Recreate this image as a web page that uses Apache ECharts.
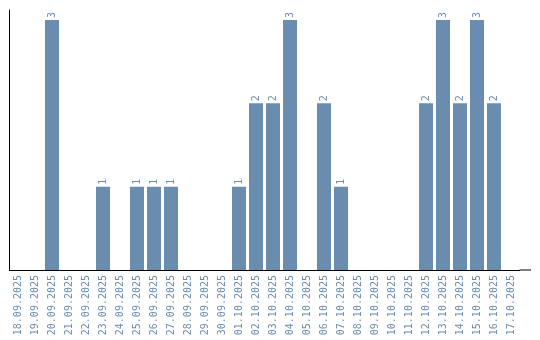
<!DOCTYPE html>
<html><head><meta charset="utf-8">
<script src="https://cdn.jsdelivr.net/npm/echarts@6/dist/echarts.min.js"></script>
<style>html,body{margin:0;padding:0;background:#fff}#c{width:540px;height:340px}</style>
</head><body><div id="c"></div>
<script>
const categories = ["18.09.2025","19.09.2025","20.09.2025","21.09.2025","22.09.2025","23.09.2025","24.09.2025","25.09.2025","26.09.2025","27.09.2025","28.09.2025","29.09.2025","30.09.2025","01.10.2025","02.10.2025","03.10.2025","04.10.2025","05.10.2025","06.10.2025","07.10.2025","08.10.2025","09.10.2025","10.10.2025","11.10.2025","12.10.2025","13.10.2025","14.10.2025","15.10.2025","16.10.2025","17.10.2025"];
const counts = [0,0,3,0,0,1,0,1,1,1,0,0,0,1,2,2,3,0,2,1,0,0,0,0,2,3,2,3,2,0];

const gridLeft = 9.5, gridTop = 10, gridWidth = 510, gridBottom = 70;
const chart = echarts.init(document.getElementById('c'));
chart.setOption({
  animation: false,
  grid: {left: gridLeft, top: gridTop, width: gridWidth, bottom: gridBottom, containLabel: false},
  xAxis: {
    type: 'category', data: categories,
    axisLine: {show: true, lineStyle: {color: '#000', width: 1}},
    axisTick: {show: false},
    axisLabel: {rotate: 90, interval: 0, margin: 5, color: '#6a8caf', fontFamily: 'DejaVu Sans Mono', fontSize: 10}
  },
  yAxis: {
    type: 'value', min: 0, max: 3.12,
    axisLine: {show: true, lineStyle: {color: '#000', width: 1}},
    axisTick: {show: false}, axisLabel: {show: false}, splitLine: {show: false}
  },
  graphic: [{
    type: 'line', silent: true,
    shape: {x1: gridLeft + gridWidth, y1: 340 - gridBottom, x2: 531, y2: 340 - gridBottom},
    style: {stroke: '#000', lineWidth: 1}
  }],
  series: [{
    type: 'bar', data: counts.map(v => v === 0 ? null : v), barWidth: 14,
    itemStyle: {color: '#6a8caf'},
    label: {show: true, position: 'top', rotate: 90, align: 'left', verticalAlign: 'middle', distance: 2,
      color: '#6a8caf', fontFamily: 'DejaVu Sans Mono', fontSize: 10}
  }]
});
</script></body></html>
